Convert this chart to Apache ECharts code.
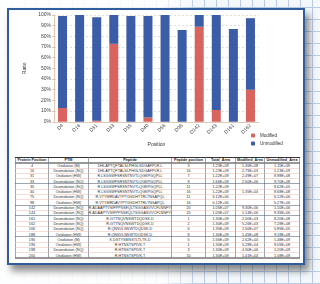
<!DOCTYPE html>
<html>
<head>
<meta charset="utf-8">
<script src="https://cdn.jsdelivr.net/npm/echarts@6/dist/echarts.min.js"></script>
<style>
  html, body { margin: 0; padding: 0; }
  body {
    width: 320px; height: 284px; position: relative; overflow: hidden;
    background-color: #f4f7fb;
    background-image:
      repeating-linear-gradient(90deg, #b9cbe6 0 1px, transparent 1px 12px),
      repeating-linear-gradient(0deg, #b9cbe6 0 1px, transparent 1px 12px);
    font-family: "Liberation Sans", Arial, sans-serif;
  }
  .fade {
    position: absolute; left: 0; top: 0; width: 320px; height: 284px;
    background: linear-gradient(90deg, rgba(255,255,255,0.95) 0%, rgba(255,255,255,0.85) 50%, rgba(255,255,255,0) 62%);
  }
  .panel {
    position: absolute; left: 7px; top: 8px; width: 294px; height: 253px;
    background: #fff; border: 2px solid #2f5d9e;
    box-shadow: 4px 6px 7px rgba(40,40,40,0.55);
  }
  #chart { position: absolute; left: 0; top: 0; width: 320px; height: 152px; }
  .tbl {
    position: absolute; left: 15px; top: 157px;
    transform: scale(0.5); transform-origin: 0 0;
  }
  table { border-collapse: collapse; width: 562px; font-size: 7.5px; color: #333; table-layout: fixed; }
  tr { height: 10.6px; }
  td, th { padding: 0; text-align: center; white-space: nowrap; overflow: hidden;
           border-left: 1px solid #3d4a5e; border-right: 1px solid #3d4a5e;
           border-bottom: 1px solid #e8b9b0; line-height: 8px; }
  th { font-weight: bold; border-top: 2px solid #333; border-bottom: 2px solid #333; color: #222; }
  tr:last-child td { border-bottom: 2px solid #333; }
  tr.sep td { border-bottom: 1px solid #3d4a5e; }
</style>
</head>
<body>
<div class="fade"></div>
<div class="panel"></div>
<div id="chart"></div>
<div class="tbl"><table id="t"></table></div>
<script>
const positions = ["D4", "D16", "D31", "D33", "D35", "D40", "D56", "D98", "D142", "D143", "D161", "D162"];
const modified = [13, 0, 1, 73, 0, 4, 0, 0, 89, 11, 0, 30];
const unmodified = [86, 100, 97, 27, 99, 95, 100, 86, 11, 89, 87, 67];
const ratioTicks = ["0%", "10%", "20%", "30%", "40%", "50%", "60%", "70%", "80%", "90%", "100%"];

const tableHeader = ["Protein Position", "PTM", "Peptide", "Peptide position", "Total_Area", "Modified_Area", "Unmodified_Area"];
const proteinPos = [4, 16, 31, 33, 35, 40, 75, 98, 142, 143, 161, 162, 166, 188, 190, 196, 198, 200];
const ptm = ["Oxidation (M)", "Deamidation (NQ)", "Oxidation (HW)", "Deamidation (NQ)", "Deamidation (NQ)", "Oxidation (HW)",
  "Deamidation (NQ)", "Oxidation (HW)", "Deamidation (NQ)", "Deamidation (NQ)", "Deamidation (NQ)", "Deamidation (NQ)",
  "Deamidation (NQ)", "Oxidation (HW)", "Oxidation (M)", "Oxidation (HW)", "Deamidation (NQ)", "Oxidation (HW)"];
const peptides = ["DHLAPTQFTALSLPHGLSDGAFPLR.L", "DHLAPTQFTALSLPHGLSDGAFPLR.L", "R.LSGSWFSRSNTNVTLQGKPGQPLL",
  "R.LSGSWFSRSNTNVTLQGKPGQPLL", "R.LSGSWFSRSNTNVTLQGKPGQPLL", "R.LSGSWFSRSNTNVTLQGKPGQPLL",
  "R.VTYMRDAVYPTGSDHTTRLTNSAPQL", "R.VTYMRDAVYPTGSDHTTRLTNSAPQL", "R.ADAAPTVSIFPPSSEQLTSGGASVVCFLNNFYPK.D",
  "R.ADAAPTVSIFPPSSEQLTSGGASVVCFLNNFYPK.D", "R.GTTNQVNSWTDQDSK.D", "R.GTTNQVNSWTDQDSK.D",
  "R.QNSVLNSWTDQDSK.D", "R.QNSVLNSWTDQDSK.D", "K.DSTYSMSSTLTLTK.D", "R.HTNSTSPIVK.T",
  "R.HTNSTSPIVK.T", "R.HTNSTSPIVK.T"];
const peptidePos = [3, 16, 7, 9, 11, 16, 11, 16, 20, 20, 1, 2, 6, 8, 5, 1, 3, 10];
const totalArea = ["1.23E+09", "1.23E+09", "1.22E+09", "1.66E+09", "1.22E+09", "1.22E+09", "6.12E+06", "6.12E+06",
  "1.05E+07", "1.05E+07", "1.30E+09", "1.30E+09", "1.35E+09", "1.30E+09", "1.56E+09", "1.30E+09", "1.30E+09", "1.30E+09"];
const modArea = ["1.46E+08", "2.75E+03", "2.49E+07", "2.60E+06", "", "1.35E+04", "", "", "9.30E+06", "1.14E+06",
  "2.00E+03", "5.26E+03", "1.50E+07", "1.45E+08", "2.62E+04", "5.28E+04", "4.30E+06", "1.41E+04"];
const unmodArea = ["1.11E+09", "1.23E+09", "8.98E+08", "9.70E+08", "8.62E+05", "8.68E+08", "6.12E+06", "5.27E+06",
  "1.10E+06", "9.35E+06", "8.20E+08", "7.28E+08", "5.85E+05", "9.18E+08", "1.48E+09", "9.05E+08", "1.20E+09", "1.08E+09"];

const tbl = document.getElementById("t");
let html = "<tr>" + tableHeader.map((h, i) =>
  `<th style="width:${[66, 78, 166, 66, 60, 56, 70][i]}px">${h}</th>`).join("") + "</tr>";
proteinPos.forEach((p, i) => {
  const cls = [3, 7, 9, 13].includes(i) ? ' class="sep"' : "";
  html += `<tr${cls}><td>${p}</td><td>${ptm[i]}</td><td>${peptides[i]}</td><td>${peptidePos[i]}</td>` +
    `<td>${totalArea[i]}</td><td>${modArea[i]}</td><td>${unmodArea[i]}</td></tr>`;
});
tbl.innerHTML = html;

const chart = echarts.init(document.getElementById("chart"), null, { renderer: "canvas" });
const labelStyle = { color: "#444", fontSize: 5, fontFamily: "Liberation Sans" };
chart.setOption({
  animation: false,
  backgroundColor: "transparent",
  grid: { left: 54, top: 15, width: 205, height: 110 },
  legend: {
    orient: "vertical", left: 251, top: 133, itemWidth: 4, itemHeight: 4, itemGap: 3,
    padding: 0,
    textStyle: { color: "#333", fontSize: 4.5, fontFamily: "Liberation Sans" },
    data: ["Modified", "Unmodified"],
  },
  xAxis: {
    type: "category",
    data: positions,
    name: "Position",
    nameLocation: "middle",
    nameGap: 20,
    nameTextStyle: { color: "#333", fontSize: 5 },
    axisLine: { lineStyle: { color: "#e0c8b8" } },
    axisTick: { show: false },
    axisLabel: { ...labelStyle, rotate: 45, margin: 3 },
  },
  yAxis: {
    type: "value",
    min: 0, max: 100, interval: 10,
    name: "Ratio",
    nameLocation: "middle",
    nameGap: 20,
    nameTextStyle: { color: "#333", fontSize: 5 },
    axisLine: { show: true, lineStyle: { color: "#e8c8b0" } },
    axisTick: { show: true, length: 2, lineStyle: { color: "#e0c0a8" } },
    axisLabel: { ...labelStyle, margin: 3, formatter: (v) => ratioTicks[Math.round(v / 10)] },
    splitLine: { lineStyle: { color: "#c8c8c8", type: [2, 2], width: 0.6 } },
  },
  series: [
    { name: "Modified", type: "bar", stack: "r", data: modified, barWidth: 9,
      itemStyle: { color: "#d9635e" } },
    { name: "Unmodified", type: "bar", stack: "r", data: unmodified, barWidth: 9,
      itemStyle: { color: "#3b5ca6" } },
  ],
});
</script>
</body>
</html>
